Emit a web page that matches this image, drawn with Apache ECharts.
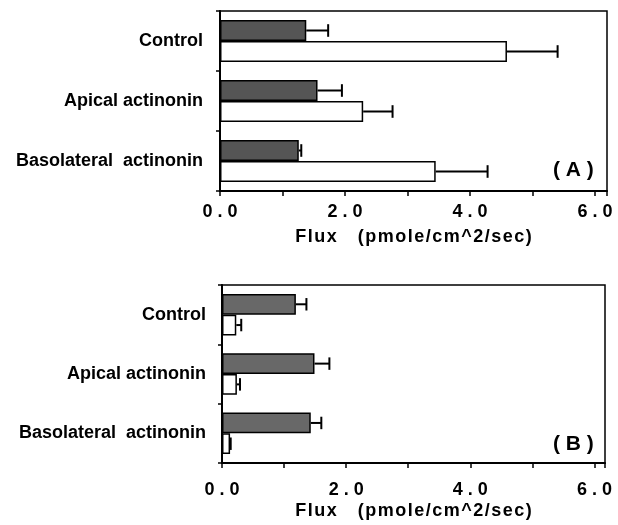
<!DOCTYPE html>
<html>
<head>
<meta charset="utf-8">
<script src="https://cdn.jsdelivr.net/npm/echarts@6/dist/echarts.min.js"></script>
<style>
html,body{margin:0;padding:0;background:#fff;}
#chart{width:618px;height:525px;}
</style>
</head>
<body>
<div id="chart"></div>
<script>
// ---- data ----
const categories = ['Control', 'Apical actinonin', 'Basolateral  actinonin'];
// Panel A
const aDark = [1.38, 1.56, 1.26];
const aDarkErr = [0.35, 0.39, 0.04];
const aWhite = [4.59, 2.29, 3.45];
const aWhiteErr = [0.81, 0.47, 0.83];
// Panel B
const bDark = [1.19, 1.49, 1.43];
const bDarkErr = [0.17, 0.24, 0.17];
const bWhite = [0.23, 0.24, 0.13];
const bWhiteErr = [0.08, 0.05, 0.01];
const xTickLabels = ['0.0', '2.0', '4.0', '6.0'];
const axisTitle = 'Flux   (pmole/cm^2/sec)';
const panelLabels = ['(A)', '(B)'];

// ---- helpers ----
const hair = s => s.split('').join('\u200A');
const spaced = s => s.split('').join(' ');
function tickFmt(v) {
  if (Math.abs(v - Math.round(v)) > 1e-6) return '';
  const r = Math.round(v);
  if (r % 2 !== 0) return '';
  const lab = xTickLabels[r / 2];
  return lab ? spaced(lab) : '';
}
function errSeries(vals, errs, gi, sign) {
  return {
    type: 'custom',
    xAxisIndex: gi, yAxisIndex: gi,
    encode: { x: [0, 1], y: 2 },
    z: 5,
    data: vals.map((v, i) => [v, v + errs[i], i]),
    renderItem: function (params, api) {
      const cat = api.value(2);
      const p0 = api.coord([api.value(0), cat]);
      const p1 = api.coord([api.value(1), cat]);
      const band = api.size([0, 1])[1];
      const y = p0[1] + sign * band * 0.175;
      const cap = band * 0.105;
      const st = { stroke: '#000', lineWidth: 2 };
      return {
        type: 'group',
        children: [
          { type: 'line', shape: { x1: p0[0], y1: y, x2: p1[0], y2: y }, style: st },
          { type: 'line', shape: { x1: p1[0], y1: y - cap, x2: p1[0], y2: y + cap }, style: st }
        ]
      };
    }
  };
}
const labelFont = { fontFamily: 'Liberation Sans', fontWeight: 'bold', color: '#000' };

function xAxisDef(gi, max, labelMargin, nameGap) {
  return {
    gridIndex: gi, type: 'value', min: 0, max: max, interval: 1,
    axisLine: { show: true, lineStyle: { color: '#000', width: 2 } },
    axisTick: { show: true, length: 5, lineStyle: { color: '#000', width: 1.5 } },
    splitLine: { show: false },
    axisLabel: Object.assign({ fontSize: 18, margin: labelMargin, formatter: tickFmt }, labelFont),
    name: hair(axisTitle), nameLocation: 'middle', nameGap: nameGap,
    nameTextStyle: Object.assign({ fontSize: 18 }, labelFont)
  };
}
function yAxisDef(gi, margin) {
  return {
    gridIndex: gi, type: 'category', data: categories, inverse: true,
    axisLine: { show: true, lineStyle: { color: '#000', width: 2 } },
    axisTick: { show: true, length: 4, lineStyle: { color: '#000', width: 1.5 } },
    axisLabel: Object.assign({ fontSize: 18, margin: margin, padding: [4, 0, 0, 0] }, labelFont)
  };
}
function barDef(gi, vals, color) {
  return {
    type: 'bar', xAxisIndex: gi, yAxisIndex: gi, data: vals,
    barGap: '0%', barCategoryGap: '30%',
    itemStyle: { color: color, borderColor: '#000', borderWidth: 1.5 },
    silent: true
  };
}

const chart = echarts.init(document.getElementById('chart'), null, { renderer: 'canvas' });
chart.setOption({
  animation: false,
  backgroundColor: '#fff',
  grid: [
    { left: 220, top: 11, width: 387, height: 180, show: true, borderColor: '#000', borderWidth: 1.5, backgroundColor: 'transparent' },
    { left: 222, top: 285, width: 383, height: 178, show: true, borderColor: '#000', borderWidth: 1.5, backgroundColor: 'transparent' }
  ],
  xAxis: [ xAxisDef(0, 6.19, 12, 37), xAxisDef(1, 6.17, 18, 39) ],
  yAxis: [ yAxisDef(0, 17), yAxisDef(1, 16) ],
  series: [
    barDef(0, aDark, '#555555'),
    barDef(0, aWhite, '#ffffff'),
    errSeries(aDark, aDarkErr, 0, -1),
    errSeries(aWhite, aWhiteErr, 0, 1),
    barDef(1, bDark, '#686868'),
    barDef(1, bWhite, '#ffffff'),
    errSeries(bDark, bDarkErr, 1, -1),
    errSeries(bWhite, bWhiteErr, 1, 1)
  ],
  graphic: [
    { type: 'text', left: 553, top: 160, style: { text: spaced(panelLabels[0]), fontSize: 21, fill: '#000', fontFamily: 'Liberation Sans', fontWeight: 'bold' } },
    { type: 'text', left: 553, top: 434, style: { text: spaced(panelLabels[1]), fontSize: 21, fill: '#000', fontFamily: 'Liberation Sans', fontWeight: 'bold' } }
  ]
});
</script>
</body>
</html>
